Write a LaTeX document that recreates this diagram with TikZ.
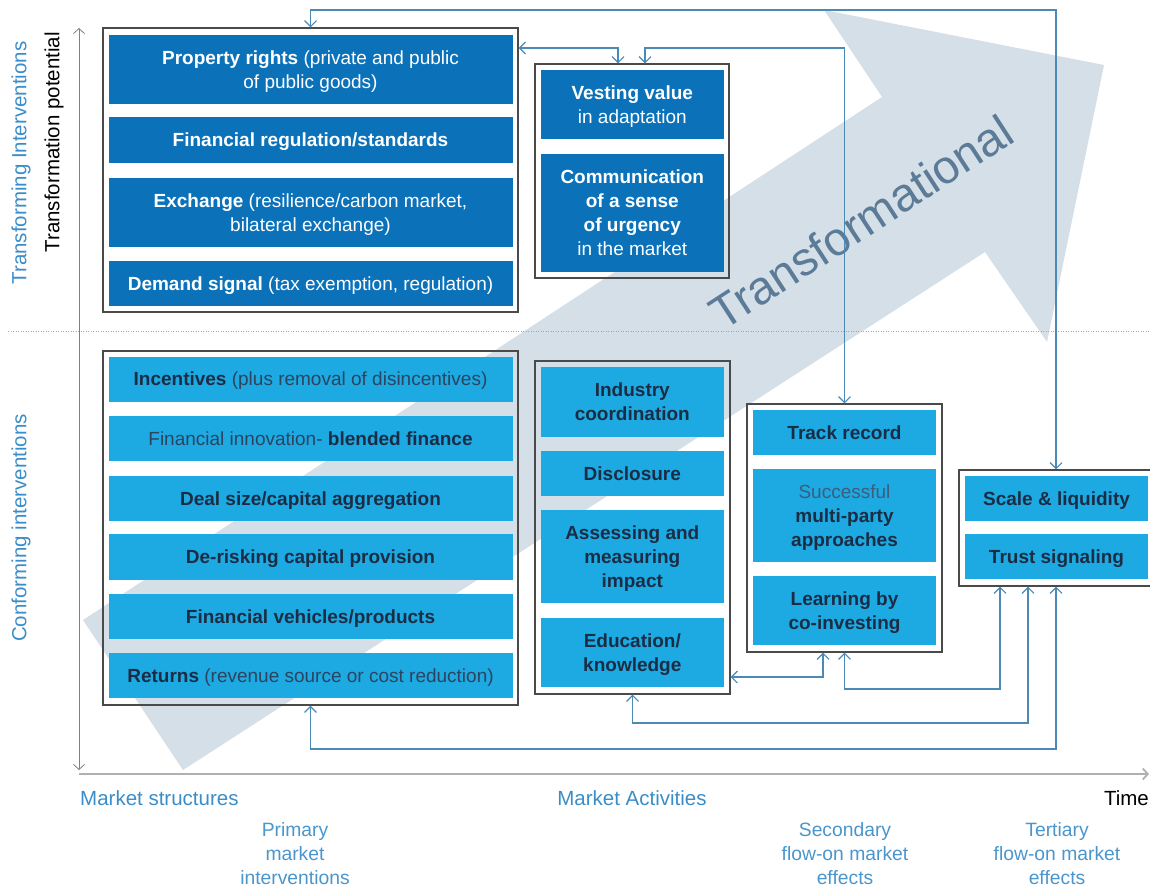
\documentclass[tikz,border=0pt]{standalone}
\usepackage{fontspec}
\setmainfont{Liberation Sans}
\usetikzlibrary{arrows.meta}

\definecolor{darkbox}{HTML}{0B72BA}
\definecolor{lightbox}{HTML}{1DA9E1}
\definecolor{navytext}{HTML}{1B2D45}
\definecolor{navysoft}{HTML}{2C4460}
\definecolor{palenavy}{HTML}{3E5C7C}
\definecolor{framegray}{HTML}{4A4A4A}
\definecolor{linkblue}{HTML}{4B8AB4}
\definecolor{arrowfill}{HTML}{D5DFE8}
\definecolor{arrowtext}{HTML}{5B7B96}
\definecolor{labelblue}{HTML}{3A8DC8}
\definecolor{stageblue}{HTML}{4A96CC}
\definecolor{axisgray}{HTML}{808080}
\definecolor{timeaxis}{HTML}{B0B0B0}

\newcommand{\soft}[1]{{\color{navysoft}#1}}

\begin{document}
\begin{tikzpicture}[x=1pt,y=-1pt,
  boxfont/.style={font=\fontsize{19}{24}\selectfont},
  darkcell/.style={fill=darkbox,text=white,align=center,inner sep=0pt,text depth=0pt,boxfont},
  lightcell/.style={fill=lightbox,text=navytext,align=center,inner sep=0pt,text depth=0pt,boxfont},
  wide/.style={minimum width=404pt},
  narrow/.style={minimum width=183.5pt},
  group/.style={draw=framegray,line width=1.1pt,inner sep=0pt},
  barb/.tip={Straight Barb[length=6pt,width=12pt]},
  link/.style={draw=linkblue,line width=1.2pt,barb-barb},
  sidelabel/.style={font=\fontsize{20.5}{24}\selectfont,inner sep=0pt,rotate=90},
  axislabel/.style={font=\fontsize{20.5}{24}\selectfont,inner sep=0pt},
  stagelabel/.style={font=\fontsize{19.3}{24}\selectfont,inner sep=0pt,align=center,text=stageblue,anchor=north}
]
\useasboundingbox (0,0) rectangle (1150,886);

% broad background arrow
\fill[arrowfill] (183,770) -- (985,252) -- (1047,342) -- (1104,65)
  -- (824,10) -- (882,97) -- (83,620) -- cycle;
\node[font=\fontsize{47}{50}\selectfont,text=arrowtext,rotate=33,inner sep=0pt]
  (lblTrans) at (861,222) {Transformational};

% separator between transforming and conforming interventions
\coordinate (sepL) at (8,331);
\coordinate (sepR) at (1150,331);
\draw[axisgray!70,line width=0.8pt,dash pattern=on 1pt off 1.5pt] (sepL) -- (sepR);

% axes
\coordinate (axTop) at (79,28);
\coordinate (axBot) at (79,770);
\coordinate (axL) at (79,774);
\coordinate (axR) at (1149,774);
\draw[axisgray,line width=0.8pt,{Straight Barb[length=5pt,width=11pt]}-{Straight Barb[length=5pt,width=11pt]}] (axBot) -- (axTop);
\draw[timeaxis,line width=1.8pt,-{Straight Barb[length=5pt,width=11pt]}] (axL) -- (axR);

% group frames
\node[group,minimum width=415pt,minimum height=284pt] (fA) at (310.5,170) {};
\node[group,minimum width=194pt,minimum height=214pt] (fB) at (632,171) {};
\node[group,minimum width=415pt,minimum height=354pt] (fC) at (310.5,528) {};
\node[group,minimum width=195pt,minimum height=333pt] (fD) at (632.5,527.5) {};
\node[group,minimum width=195pt,minimum height=248pt] (fE) at (844.5,528) {};
\node[group,minimum width=196pt,minimum height=116pt] (fF) at (1057,528) {};

% market structures: transforming
\node[darkcell,wide,minimum height=69pt] (propR) at (310.5,69.5)
  {\textbf{Property rights} (private and public\\of public goods)};
\node[darkcell,wide,minimum height=46pt] (finReg) at (310.5,140)
  {\textbf{Financial regulation/standards}};
\node[darkcell,wide,minimum height=69pt] (exch) at (310.5,212.5)
  {\textbf{Exchange} (resilience/carbon market,\\bilateral exchange)};
\node[darkcell,wide,minimum height=45pt] (demand) at (310.5,283.5)
  {\textbf{Demand signal} (tax exemption, regulation)};

\node[darkcell,narrow,minimum height=69pt] (vesting) at (632.3,104.5)
  {\textbf{Vesting value}\\in adaptation};
\node[darkcell,narrow,minimum height=118pt] (urgency) at (632.3,213)
  {\textbf{Communication}\\\textbf{of a sense}\\\textbf{of urgency}\\in the market};

% market structures: conforming
\node[lightcell,wide,minimum height=45pt] (incent) at (310.5,379)
  {\textbf{Incentives} \soft{(plus removal of disincentives)}};
\node[lightcell,wide,minimum height=45pt] (innov) at (310.5,438.5)
  {\soft{Financial innovation-} \textbf{blended finance}};
\node[lightcell,wide,minimum height=45pt] (dealsize) at (310.5,498.5)
  {\textbf{Deal size/capital aggregation}};
\node[lightcell,wide,minimum height=46pt] (derisk) at (310.5,557)
  {\textbf{De-risking capital provision}};
\node[lightcell,wide,minimum height=45pt] (vehicles) at (310.5,616.5)
  {\textbf{Financial vehicles/products}};
\node[lightcell,wide,minimum height=45pt] (returns) at (310.5,675.5)
  {\textbf{Returns} \soft{(revenue source or cost reduction)}};

% market activities
\node[lightcell,narrow,minimum height=70pt] (industry) at (632.3,402)
  {\textbf{Industry}\\\textbf{coordination}};
\node[lightcell,narrow,minimum height=45pt] (disclose) at (632.3,473.5)
  {\textbf{Disclosure}};
\node[lightcell,narrow,minimum height=93pt] (assess) at (632.3,556.5)
  {\textbf{Assessing and}\\\textbf{measuring}\\\textbf{impact}};
\node[lightcell,narrow,minimum height=69pt] (educ) at (632.3,652.5)
  {\textbf{Education/}\\\textbf{knowledge}};

% secondary flow-on effects
\node[lightcell,minimum width=183pt,minimum height=45pt] (track) at (844.5,432.5)
  {\textbf{Track record}};
\node[lightcell,minimum width=183pt,minimum height=93pt] (multi) at (844.5,515.5)
  {{\color{palenavy}Successful}\\\textbf{multi-party}\\\textbf{approaches}};
\node[lightcell,minimum width=183pt,minimum height=69pt] (colearn) at (844.5,610.5)
  {\textbf{Learning by}\\\textbf{co-investing}};

% tertiary flow-on effects
\node[lightcell,minimum width=183pt,minimum height=45pt] (scale) at (1056.5,498.5)
  {\textbf{Scale \& liquidity}};
\node[lightcell,minimum width=183pt,minimum height=45pt] (trust) at (1056.5,556.5)
  {\textbf{Trust signaling}};

% feedback connectors
\coordinate (yTop) at (0,10);
\coordinate (yAB) at (0,48);
\coordinate (xB1) at (618,0);
\coordinate (xB2) at (645,0);
\coordinate (yEdu) at (0,677);
\coordinate (xE1) at (823,0);
\coordinate (yEF) at (0,689);
\coordinate (yDF) at (0,723);
\coordinate (yCF) at (0,749);
\coordinate (xF1) at (1000,0);
\coordinate (xF2) at (1028,0);
\coordinate (xF3) at (1056,0);

\draw[link] (fA.north) -- (fA.north |- yTop) -| (xF3 |- fF.north);
\draw[link] (fC.south) -- (fC.south |- yCF) -| (xF3 |- fF.south);
\draw[link] (fA.east |- yAB) -| (xB1 |- fB.north);
\draw[link] (xB2 |- fB.north) -- (xB2 |- yAB) -| (fE.north);
\draw[link] (fD.east |- yEdu) -| (xE1 |- fE.south);
\draw[link] (fE.south) -- (fE.south |- yEF) -| (xF1 |- fF.south);
\draw[link] (fD.south) -- (fD.south |- yDF) -| (xF2 |- fF.south);

% axis and stage labels
\node[sidelabel,text=labelblue] (lblTI) at (21,163) {Transforming Interventions};
\node[sidelabel,text=black,anchor=east] (lblTP) at (54,32) {Transformation potential};
\node[sidelabel,text=labelblue] (lblCI) at (21,528) {Conforming interventions};

\node[axislabel,text=labelblue,anchor=base west] (lblMS) at (80,805) {Market structures};
\node[axislabel,text=labelblue,anchor=base] (lblMA) at (632,805) {Market Activities};
\node[axislabel,text=black,anchor=base east] (lblTime) at (1149,805) {Time};

\node[stagelabel] (lblPrim) at (295,822) {Primary\\market\\interventions};
\node[stagelabel] (lblSec) at (845,822) {Secondary\\flow-on market\\effects};
\node[stagelabel] (lblTer) at (1057,822) {Tertiary\\flow-on market\\effects};
\end{tikzpicture}
\end{document}
